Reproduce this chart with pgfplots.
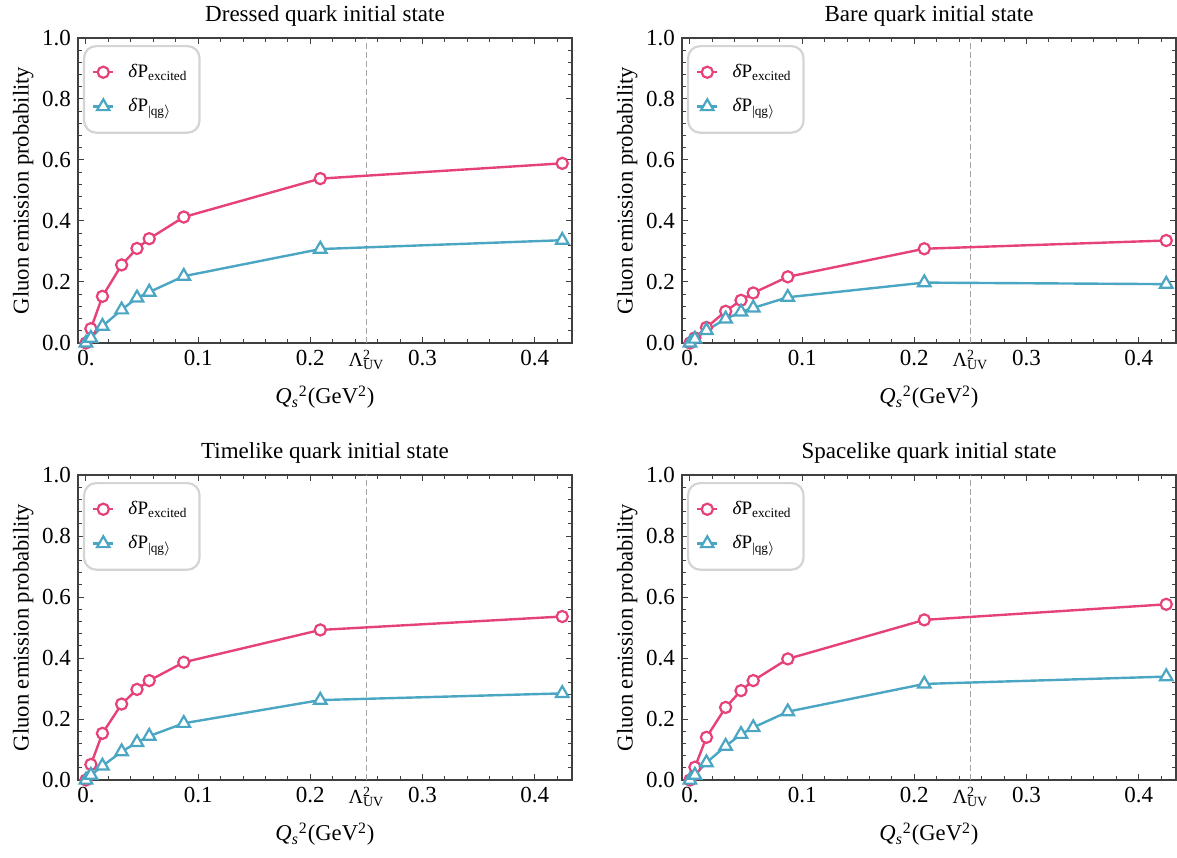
\documentclass[border=0pt]{standalone}
\usepackage{fontspec}
\setmainfont{Liberation Serif}
\usepackage{pgfplots}
\usepackage{pgfplotstable}
\pgfplotsset{compat=1.18}

\definecolor{cred}{HTML}{E6417A}
\definecolor{ccyan}{HTML}{4BA6C3}

% x: Qs^2, r: dP_excited, c: dP_|qg>
\pgfplotstableread{
x      r      c
0      0      0
0.0044 0.047  0.016
0.0147 0.153  0.055
0.0318 0.256  0.109
0.0455 0.310  0.148
0.0564 0.342  0.167
0.0872 0.413  0.219
0.2089 0.539  0.308
0.4246 0.589  0.337
}\dressed
\pgfplotstableread{
x      r      c
0      0      0
0.0044 0.017  0.013
0.0147 0.051  0.041
0.0318 0.104  0.079
0.0455 0.140  0.102
0.0564 0.164  0.115
0.0872 0.217  0.150
0.2089 0.309  0.198
0.4246 0.336  0.193
}\bare
\pgfplotstableread{
x      r      c
0      0      0
0.0044 0.051  0.016
0.0147 0.153  0.046
0.0318 0.249  0.093
0.0455 0.297  0.123
0.0564 0.326  0.144
0.0872 0.386  0.186
0.2089 0.492  0.262
0.4246 0.536  0.284
}\timelike
\pgfplotstableread{
x      r      c
0      0      0
0.0044 0.042  0.016
0.0147 0.140  0.057
0.0318 0.238  0.111
0.0455 0.293  0.150
0.0564 0.326  0.172
0.0872 0.397  0.224
0.2089 0.525  0.315
0.4246 0.576  0.339
}\spacelike

\pgfplotsset{
  panel/.style={
    scale only axis, width=247pt, height=152.5pt,
    anchor=south west,
    xmin=-0.0071, xmax=0.4333, ymin=0, ymax=1,
    axis line style={black!75, line width=0.6pt},
    xtick={0,0.1,0.2,0.3,0.4},
    xticklabels={0.,0.1,0.2,0.3,0.4},
    extra x ticks={0.25},
    extra x tick labels={Λ\rlap{\textsuperscript{2}}\textsubscript{UV}},
    extra x tick style={major tick length=0pt, ticklabel style={font=\fontsize{10}{11}\selectfont}},
    minor xtick={0.02,0.04,0.06,0.08,0.12,0.14,0.16,0.18,0.22,0.24,0.26,0.28,0.32,0.34,0.36,0.38,0.42},
    ytick={0,0.2,0.4,0.6,0.8,1.0},
    minor ytick={0.04,0.08,0.12,0.16,0.24,0.28,0.32,0.36,0.44,0.48,0.52,0.56,0.64,0.68,0.72,0.76,0.84,0.88,0.92,0.96},
    /pgf/number format/assume math mode=true,
    yticklabel style={/pgf/number format/fixed, /pgf/number format/fixed zerofill, /pgf/number format/precision=1},
    tick align=inside, major tick length=3.2pt, minor tick length=1.9pt,
    tick style={black!75, line width=0.5pt},
    ticklabel style={font=\fontsize{11.5}{12}\selectfont},
    title style={font=\fontsize{11.5}{13}\selectfont, yshift=-3.5pt},
    label style={font=\fontsize{11.3}{13}\selectfont},
    xlabel={\textit{Q\textsubscript{s}}\textsuperscript{2}(GeV\textsuperscript{2})},
    xlabel style={yshift=-1pt},
    ylabel={Gluon emission probability},
    ylabel style={yshift=-2.5pt},
    legend cell align=left,
    legend style={at={(0.0101,0.977)}, anchor=north west, draw=black!17, line width=1.1pt,
      rounded corners=6pt, fill=white, inner xsep=4pt, inner ysep=7pt, row sep=5pt,
      font=\fontsize{9.5}{11}\selectfont},
    legend image code/.code={\draw[sharp corners, mark repeat=2, mark phase=2] plot coordinates {(0pt,0pt) (5pt,0pt) (10pt,0pt)}; \path (15pt,0pt);},
  },
  uvline/.style={black!35, dash pattern=on 3pt off 1.6pt, line width=0.6pt, forget plot},
  redline/.style={cred, line width=1.2pt, sharp corners, mark=*, mark size=2.8pt, mark options={fill=white, solid, line width=1.1pt}},
  cyanline/.style={ccyan, line width=1.2pt, sharp corners, mark=triangle*, mark size=3.6pt, mark options={fill=white, solid, line width=1.1pt}},
}

\newcommand{\panel}[3]{%
  \begin{axis}[panel, at={#1}, title={#2}]
    \addplot[uvline] coordinates {(0.25,0) (0.25,1)};
    \addplot[redline] table[x=x, y=r] {#3};
    \addlegendentry{\textit{δ}P\textsubscript{excited}\hspace{4pt}}
    \addplot[cyanline] table[x=x, y=c] {#3};
    \addlegendentry{\textit{δ}P\textsubscript{|qg$\rangle$}}
  \end{axis}}

\begin{document}
\begin{tikzpicture}
\path[use as bounding box] (0,0) rectangle (588.5pt,428.5pt);
\panel{(39pt,257pt)}{Dressed quark initial state}{\dressed}
\panel{(341pt,257pt)}{Bare quark initial state}{\bare}
\panel{(39pt,38.5pt)}{Timelike quark initial state}{\timelike}
\panel{(341pt,38.5pt)}{Spacelike quark initial state}{\spacelike}
\end{tikzpicture}
\end{document}
